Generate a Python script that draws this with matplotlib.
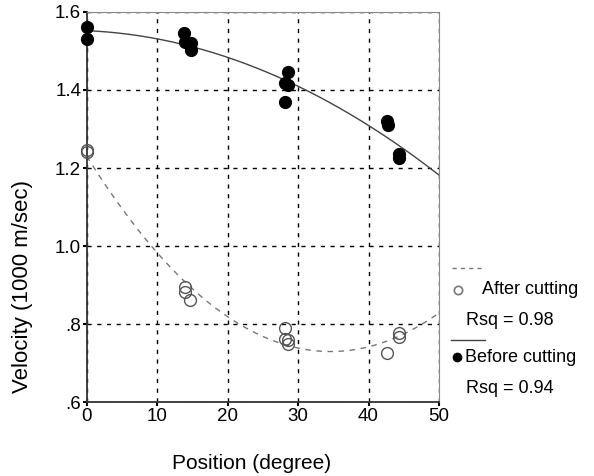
import numpy as np
import matplotlib.pyplot as plt
from matplotlib.lines import Line2D

plt.rcParams['font.family'] = ['Liberation Sans', 'DejaVu Sans']

# --- data ---
before_pos = [0, 0, 13.8, 13.9, 14.8, 14.8, 28.5, 28.1, 28.6, 28.1, 42.6, 42.7, 44.3, 44.3]
before_vel = [1.562, 1.530, 1.545, 1.524, 1.521, 1.503, 1.446, 1.419, 1.413, 1.370,
              1.321, 1.310, 1.236, 1.225]

after_pos = [0, 0, 13.9, 13.9, 14.7, 28.1, 28.1, 28.5, 28.5, 42.6, 44.3, 44.3]
after_vel = [1.245, 1.240, 0.894, 0.883, 0.862, 0.791, 0.762, 0.759, 0.750, 0.725,
             0.778, 0.766]

yticks = [0.6, 0.8, 1.0, 1.2, 1.4, 1.6]
ytick_labels = ['.6', '.8', '1.0', '1.2', '1.4', '1.6']
xticks = [0, 10, 20, 30, 40, 50]

# quadratic fits (as in the original SPSS chart)
xs = np.linspace(0, 50, 200)
fit_before = np.polyval(np.polyfit(before_pos, before_vel, 2), xs)
fit_after = np.polyval(np.polyfit(after_pos, after_vel, 2), xs)

fig = plt.figure(figsize=(5.94, 4.76), dpi=100)
ax = fig.add_axes([0.146, 0.155, 0.593, 0.82])

ax.plot(xs, fit_before, color='#444444', lw=1.0)
ax.plot(xs, fit_after, color='#777777', lw=1.0, ls=(0, (4, 4)))
ax.plot(before_pos, before_vel, 'o', ms=8.5, color='black', clip_on=False, zorder=3)
ax.plot(after_pos, after_vel, 'o', ms=8.5, mfc='none', mec='#555555', mew=1.0,
        clip_on=False, zorder=3)

ax.set_xlim(0, 50)
ax.set_ylim(0.6, 1.6)
ax.set_xticks(xticks)
ax.set_yticks(yticks)
ax.set_yticklabels(ytick_labels)
ax.grid(True, color='black', ls=(0, (3, 4)), lw=1.0)
ax.tick_params(labelsize=13.5, length=3, width=1.5, pad=1)
for s in ['top', 'right']:
    ax.spines[s].set_color('#888888')
for s in ['left', 'bottom']:
    ax.spines[s].set_color('#333333')
    ax.spines[s].set_linewidth(1.3)

ax.set_xlabel('Position (degree)', fontsize=15, va='center')
ax.xaxis.set_label_coords(0.469, -0.156)
ax.set_ylabel('Velocity (1000 m/sec)', fontsize=16, va='center')
ax.yaxis.set_label_coords(-0.182, 0.297)

# --- legend drawn outside on the right ---
fig.add_artist(Line2D([0.761, 0.817], [0.437, 0.437], color='#777777', lw=1.0,
                      ls=(0, (3, 3))))
fig.add_artist(Line2D([0.771], [0.391], marker='o', ms=6, mfc='none',
                      mec='#777777', mew=1.2))
fig.text(0.811, 0.391, 'After cutting', fontsize=13, va='center')
fig.text(0.785, 0.326, 'Rsq = 0.98', fontsize=13, va='center')
fig.add_artist(Line2D([0.759, 0.817], [0.286, 0.286], color='#444444', lw=1.0))
fig.add_artist(Line2D([0.769], [0.250], marker='o', ms=6, color='black'))
fig.text(0.782, 0.250, 'Before cutting', fontsize=13, va='center')
fig.text(0.785, 0.183, 'Rsq = 0.94', fontsize=13, va='center')

fig.savefig('out.png', dpi=100)
